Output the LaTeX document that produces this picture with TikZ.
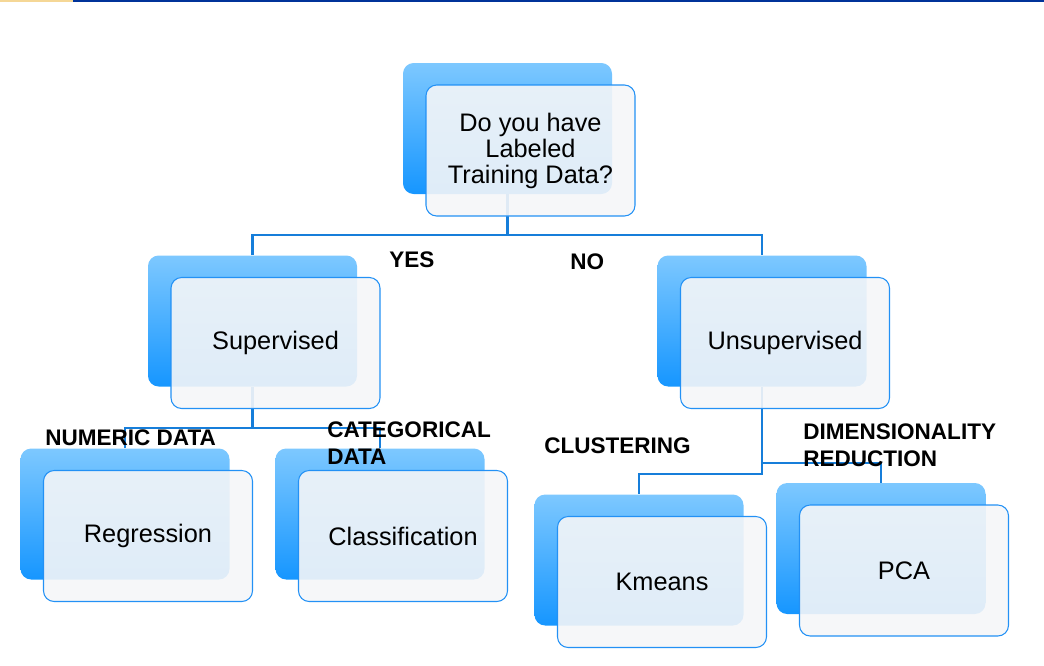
\documentclass[tikz,border=0pt]{standalone}
\usepackage{fontspec}
\setmainfont{Liberation Sans}
\usetikzlibrary{backgrounds}
\definecolor{backtop}{RGB}{125,200,255}
\definecolor{backmid}{RGB}{90,182,255}
\definecolor{backbot}{RGB}{22,150,255}
\definecolor{frontfill}{RGB}{245,246,248}
\definecolor{frontline}{RGB}{35,145,245}
\definecolor{connblue}{RGB}{22,126,218}
\definecolor{baryellow}{RGB}{245,215,150}
\definecolor{barblue}{RGB}{0,51,153}
\begin{document}
\begin{tikzpicture}
  [x=0.75pt,y=-0.75pt,
   backbox/.style={rectangle,rounded corners=8pt,minimum width=156.75pt,minimum height=98.25pt,
     top color=backtop,middle color=backmid,bottom color=backbot},
   frontbox/.style={rectangle,rounded corners=8pt,minimum width=156.75pt,minimum height=98.25pt,
     draw=frontline,line width=0.8pt,fill=frontfill,fill opacity=0.9,text opacity=1,
     align=center,font=\fontsize{19}{19.5}\selectfont},
   tag/.style={anchor=west,inner sep=0pt,align=left,font=\fontsize{16.9}{20.25}\selectfont\bfseries},
   conn/.style={draw=connblue,line width=2.2pt}]
  \useasboundingbox (0,0) rectangle (1044,665);
  \fill[baryellow] (0,0) rectangle (73,2);
  \fill[barblue] (73,0) rectangle (1044,2);

  % back boxes
  \foreach \nm/\x/\y in {qback/507.5/128.5, supback/252.5/321, unsback/762/321,
      regback/125/514, clsback/380/514, kmback/639/560, pcaback/881/548.5}
    \node[backbox] (\nm) at (\x,\y) {};

  % front boxes
  \node[frontbox] (q) at ([shift={(23,22)}]qback.center) {Do you have\\Labeled\\Training Data?};
  \node[frontbox] (sup) at ([shift={(23,22)}]supback.center) {Supervised};
  \node[frontbox] (uns) at ([shift={(23,22)}]unsback.center) {Unsupervised};
  \node[frontbox] (reg) at ([shift={(23,22)}]regback.center) {Regression};
  \node[frontbox] (cls) at ([shift={(23,22)}]clsback.center) {Classification};
  \node[frontbox] (km) at ([shift={(23,22)}]kmback.center) {Kmeans};
  \node[frontbox] (pca) at ([shift={(23,22)}]pcaback.center) {PCA};

  % labels
  \node[tag] (yes) at (389,260) {YES};
  \node[tag] (no) at (570,262) {NO};
  \node[tag] (numeric) at (45,438) {NUMERIC DATA};
  \node[tag] (categ) at (327,443.5) {CATEGORICAL\\DATA};
  \node[tag] (clust) at (544,446) {CLUSTERING};
  \node[tag] (dimred) at (803,445.5) {DIMENSIONALITY\\REDUCTION};

  % connectors
  \coordinate (split1) at (507.5,235);
  \coordinate (split2) at (252.5,428);
  \coordinate (split3) at (762,463);
  \coordinate (split4) at (762,474);
  \begin{scope}[on background layer]
    \draw[conn] (qback.south) -- (split1);
    \draw[conn] (supback.north) |- (split1) -| (unsback.north);
    \draw[conn] (supback.south) -- (split2);
    \draw[conn] (regback.north) |- (split2) -| (clsback.north);
    \draw[conn] (unsback.south) -- (split4) -| (kmback.north);
    \draw[conn] (split3) -| (pcaback.north);
  \end{scope}
\end{tikzpicture}
\end{document}
